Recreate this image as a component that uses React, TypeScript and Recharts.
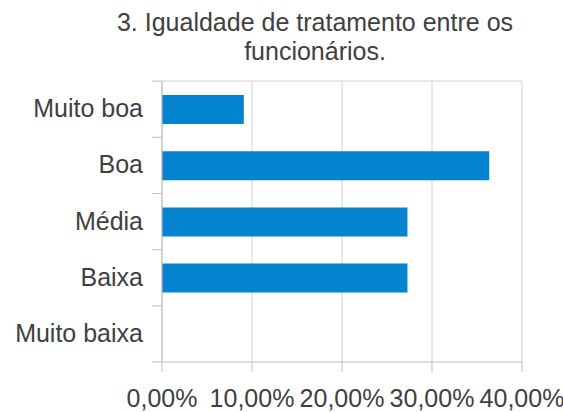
import React from "react";
import { BarChart, Bar, XAxis, YAxis, CartesianGrid } from "recharts";

const categories = ["Muito boa", "Boa", "Média", "Baixa", "Muito baixa"];
const values = [0.0909, 0.3636, 0.2727, 0.2727, 0];
const xTicks = [0, 0.1, 0.2, 0.3, 0.4];

const data = categories.map((name, i) => ({ name, value: values[i] }));

const FONT = "'Liberation Sans', Arial, sans-serif";
const TEXT = "#404040";
const AXIS = "#bfbfbf";

const fmtPct = (v: number) => (v * 100).toFixed(2).replace(".", ",") + "%";

const CategoryTick = (props: any) => {
  const { x, y, payload, index } = props;
  const half = 28;
  const last = index === categories.length - 1;
  return (
    <g>
      <line x1={x - 2} x2={x + 8} y1={y - half} y2={y - half} stroke={AXIS} />
      {last && <line x1={x - 2} x2={x + 8} y1={y + half} y2={y + half} stroke={AXIS} />}
      <text x={x - 11} y={y} dy={8} textAnchor="end" fontSize={25} fontFamily={FONT} fill={TEXT}>
        {payload.value}
      </text>
    </g>
  );
};

export default function App() {
  return (
    <div style={{ position: "absolute", left: 0, top: 0, width: 563, height: 412, background: "#fff", overflow: "hidden" }}>
      <div
        style={{
          position: "absolute",
          left: 85,
          width: 460,
          top: 8,
          textAlign: "center",
          fontFamily: FONT,
          fontSize: 25,
          lineHeight: "29px",
          color: TEXT,
        }}
      >
        3. Igualdade de tratamento entre os funcionários.
      </div>
      <BarChart
        width={563}
        height={412}
        data={data}
        layout="vertical"
        margin={{ top: 81, right: 41, bottom: 20, left: 0 }}
        style={{ overflow: "visible" }}
      >
        <CartesianGrid stroke="#d0d0d0" vertical horizontal horizontalPoints={[81]} />
        <XAxis
          type="number"
          domain={[0, 0.4]}
          ticks={xTicks}
          tickFormatter={fmtPct}
          stroke={AXIS}
          height={30}
          tickSize={10}
          tickMargin={17}
          tick={{ fontSize: 25, fontFamily: FONT, fill: TEXT }}
          interval={0}
        />
        <YAxis
          type="category"
          dataKey="name"
          width={162}
          stroke={AXIS}
          tickLine={false}
          tick={<CategoryTick />}
          interval={0}
        />
        <Bar dataKey="value" fill="#0483d0" barSize={29} isAnimationActive={false} />
      </BarChart>
    </div>
  );
}
